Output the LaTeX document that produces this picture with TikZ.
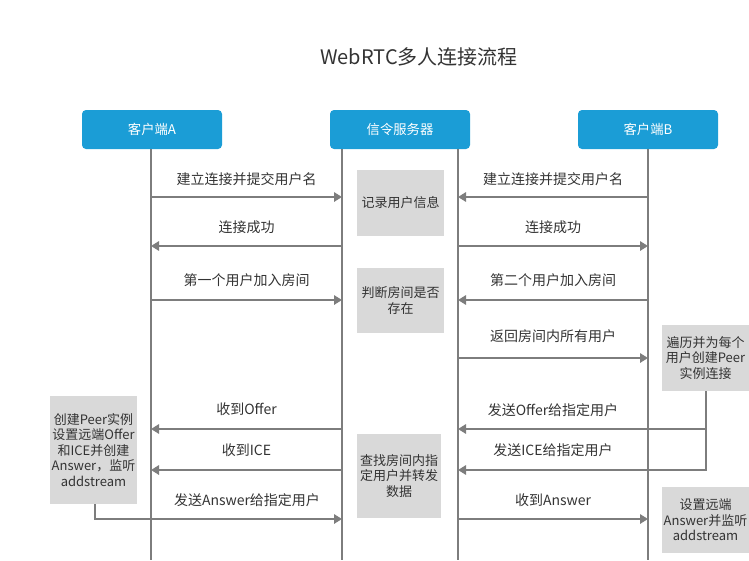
\documentclass[tikz,border=0pt]{standalone}
\usepackage{fontspec}
\setmainfont{Noto Sans CJK SC}
\usetikzlibrary{arrows.meta}

\definecolor{headblue}{RGB}{27,157,214}
\definecolor{notegray}{RGB}{217,217,217}
\definecolor{linegray}{RGB}{125,125,125}
\definecolor{textgray}{RGB}{51,51,51}

\tikzset{
  head/.style={fill=headblue, rounded corners=3pt, minimum width=105pt, minimum height=29.25pt,
    inner sep=0pt, text=white, font=\fontsize{10}{12}\selectfont},
  note/.style={fill=notegray, align=center, inner sep=0pt, minimum width=65.25pt,
    text=textgray, font=\fontsize{9.75}{11.6}\selectfont},
  lifeline/.style={draw=linegray, line width=0.8pt},
  msg/.style={draw=linegray, line width=1.5pt, -{Triangle[length=6pt,width=7pt]}},
  lbl/.style={text=textgray, font=\fontsize{10.5}{12}\selectfont, inner sep=0pt}
}

\begin{document}
\begin{tikzpicture}[x=0.75pt, y=-0.75pt]
    \useasboundingbox (0,0) rectangle (749,560);

    % title
    \node[text=textgray, font=\fontsize{15}{18}\selectfont] (title) at (419,57) {WebRTC多人连接流程};

    % heads
    \node[head] (ca) at (152,129.5) {客户端A};
    \node[head] (srv) at (400,129.5) {信令服务器};
    \node[head] (cb) at (648,129.5) {客户端B};

    % lifelines
    \coordinate (la) at (151,149);
    \coordinate (ls1) at (342,149);
    \coordinate (ls2) at (458,149);
    \coordinate (lb) at (648,149);
    \draw[lifeline] (la) -- (la |- 0,560);
    \draw[lifeline] (ls1) -- (ls1 |- 0,560);
    \draw[lifeline] (ls2) -- (ls2 |- 0,560);
    \draw[lifeline] (lb) -- (lb |- 0,560);

    % server notes
    \node[note, minimum height=49.5pt] (record) at (400.5,203) {记录用户信息};
    \node[note, minimum height=48.75pt] (check) at (400.5,300.5) {判断房间是否\\存在};
    \node[note, minimum width=63pt, minimum height=63pt] (relay) at (399,476) {查找房间内指\\定用户并转发\\数据};

    % client notes
    \node[note, minimum height=81pt] (anote) at (93.5,450) {创建Peer实例\\设置远端Offer\\和ICE并创建\\Answer，监听\\addstream};
    \node[note, minimum height=49.5pt] (bnote) at (705.5,358) {遍历并为每个\\用户创建Peer\\实例连接};
    \node[note, minimum height=49.5pt] (bans) at (705.5,520) {设置远端\\Answer并监听\\addstream};

    % login
    \draw[msg] (la |- 0,197) -- (ls1 |- 0,197) node[lbl, midway, yshift=13.5pt] (m1) {建立连接并提交用户名};
    \draw[msg] (lb |- 0,197) -- (ls2 |- 0,197) node[lbl, midway, yshift=13.5pt] (m2) {建立连接并提交用户名};
    \draw[msg] (ls1 |- 0,246) -- (la |- 0,246) node[lbl, midway, yshift=14pt] (m3) {连接成功};
    \draw[msg] (ls2 |- 0,246) -- (lb |- 0,246) node[lbl, midway, yshift=14pt] (m4) {连接成功};

    % join room
    \draw[msg] (la |- 0,300) -- (ls1 |- 0,300) node[lbl, midway, yshift=15pt] (m5) {第一个用户加入房间};
    \draw[msg] (lb |- 0,300) -- (ls2 |- 0,300) node[lbl, midway, yshift=15pt] (m6) {第二个用户加入房间};
    \draw[msg] (ls2 |- 0,358) -- (lb |- 0,358) node[lbl, midway, yshift=16pt] (m7) {返回房间内所有用户};

    % offer / ice
    \draw[msg] (bnote.south) |- (ls2 |- 0,470);
    \draw[msg] (bnote.south |- 0,429) -- (ls2 |- 0,429);
    \node[lbl] (m8) at (553,410) {发送Offer给指定用户};
    \node[lbl] (m9) at (553,450) {发送ICE给指定用户};
    \draw[msg] (ls1 |- 0,429) -- (la |- 0,429) node[lbl, midway, yshift=14.5pt] (m10) {收到Offer};
    \draw[msg] (ls1 |- 0,470) -- (la |- 0,470) node[lbl, midway, yshift=15pt] (m11) {收到ICE};

    % answer
    \draw[msg] ([xshift=1pt]anote.south) |- (ls1 |- 0,519);
    \node[lbl] (m12) at (247,500) {发送Answer给指定用户};
    \draw[msg] (ls2 |- 0,519) -- (lb |- 0,519) node[lbl, midway, yshift=14pt] (m13) {收到Answer};

\end{tikzpicture}
\end{document}
